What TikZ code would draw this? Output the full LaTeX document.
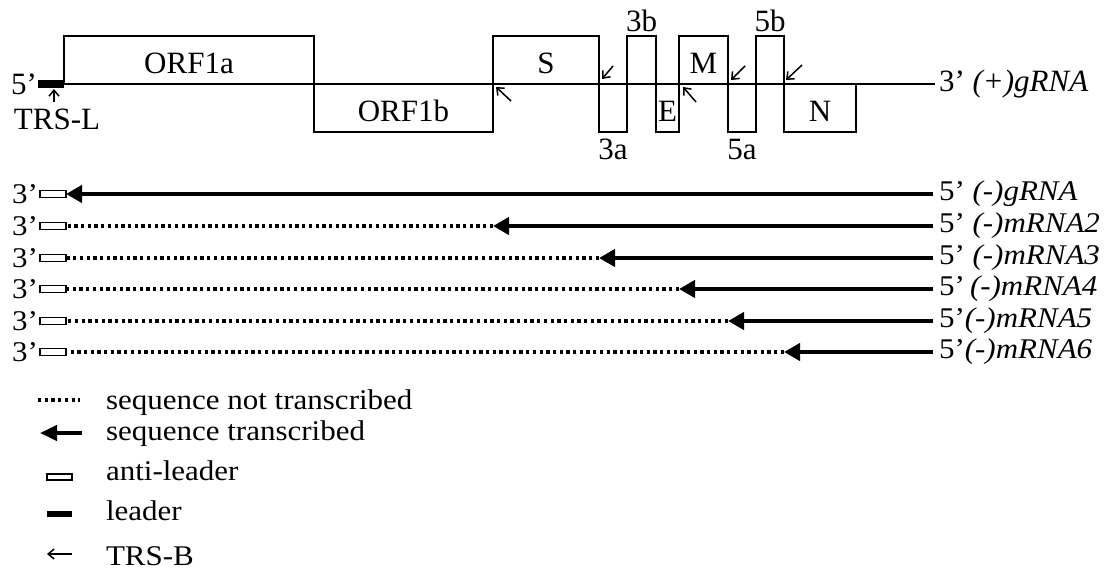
\documentclass[tikz,border=0pt]{standalone}
\usepackage{fontspec}
\usepackage{graphicx}
\setmainfont{Liberation Serif}
\usetikzlibrary{arrows.meta,positioning}

\newcommand\lowtext[1]{\scalebox{1}[.92]{#1}}

\begin{document}
\begin{tikzpicture}[x=1pt,y=-1pt,
    every node/.style={font=\fontsize{31}{36}\selectfont, inner sep=0pt, outer sep=0pt},
    orf/.style={draw, line width=1.6pt, minimum height=48pt, text height=28pt, text depth=0pt},
    trsb/.style={line width=1.5pt, -{Straight Barb[length=6pt,width=10pt]}},
    made/.style={line width=4pt, -{Triangle[length=16pt,width=17pt]}},
    skipped/.style={line width=3.3pt, dash pattern=on 3.3pt off 3.4pt},
    antileader/.style={draw, fill=white, line width=1.3pt, minimum width=26pt, minimum height=7pt},
    leaderbox/.style={fill=black, minimum width=26pt, minimum height=8pt}]

      \useasboundingbox (0,0) rectangle (1108,572);

      % genome
      \node[leaderbox] (leader) at (51,84) {};
      \node[left=1pt of leader] (five) {5’};
      \node[below=21pt of leader, xshift=6pt] (trsL) {TRS-L};
      \draw[trsb] ([xshift=3pt,yshift=-14pt]leader.south) -- ([xshift=3pt,yshift=-1pt]leader.south);
      \node[anchor=west] (plus) at (939,84) {3’ \textit{(+)gRNA}};
      \draw[line width=1.6pt] (leader.east) -- ([xshift=-4pt]plus.west);

      \node[orf, minimum width=250pt, anchor=south west] (orf1a) at (leader.east) {ORF1a};
      \node[orf, minimum width=179pt, anchor=north west] (orf1b) at (orf1a.south east) {ORF1b};
      \node[orf, minimum width=106pt, anchor=south west] (S) at (orf1b.north east) {S};
      \node[orf, minimum width=28pt, anchor=north west] (orf3a) at (S.south east) {};
      \node[orf, minimum width=29pt, anchor=south west] (orf3b) at (orf3a.north east) {};
      \node[orf, minimum width=23pt, anchor=north west] (E) at (orf3b.south east) {E};
      \node[orf, minimum width=49pt, anchor=south west] (M) at (E.north east) {M};
      \node[orf, minimum width=28pt, anchor=north west] (orf5a) at (M.south east) {};
      \node[orf, minimum width=28pt, anchor=south west] (orf5b) at (orf5a.north east) {};
      \node[orf, minimum width=72pt, anchor=north west] (N) at (orf5b.south east) {N};

      \node[below=7pt of orf3a] (lbl3a) {3a};
      \node[above=4pt of orf3b] (lbl3b) {3b};
      \node[below=7pt of orf5a] (lbl5a) {5a};
      \node[above=4pt of orf5b] (lbl5b) {5b};

      \draw[trsb] ([shift={(18,17)}]S.south west) -- ([shift={(3,3)}]S.south west);
      \draw[trsb] ([shift={(14,-18)}]S.south east) -- ([shift={(3,-5)}]S.south east);
      \draw[trsb] ([shift={(17,18)}]M.south west) -- ([shift={(4,3)}]M.south west);
      \draw[trsb] ([shift={(17,-18)}]M.south east) -- ([shift={(3,-4)}]M.south east);
      \draw[trsb] ([shift={(18,-19)}]orf5b.south east) -- ([shift={(2,-4)}]orf5b.south east);

      % negative strands
      \node[antileader] (al1) at (53,194) {};
      \node[antileader] (al2) at (53,226) {};
      \node[antileader] (al3) at (53,258) {};
      \node[antileader] (al4) at (53,289) {};
      \node[antileader] (al5) at (53,321) {};
      \node[antileader] (al6) at (53,352) {};
      \node[left=2pt of al1] (end1) {\lowtext{3’}};
      \node[left=2pt of al2] (end2) {\lowtext{3’}};
      \node[left=2pt of al3] (end3) {\lowtext{3’}};
      \node[left=2pt of al4] (end4) {\lowtext{3’}};
      \node[left=2pt of al5] (end5) {\lowtext{3’}};
      \node[left=2pt of al6] (end6) {\lowtext{3’}};

      \node[anchor=west] (rna1) at (939,194) {\lowtext{5’ \textit{(-)gRNA}}};
      \node[anchor=west] (rna2) at (939,226) {\lowtext{5’ \textit{(-)mRNA2}}};
      \node[anchor=west] (rna3) at (939,258) {\lowtext{5’ \textit{(-)mRNA3}}};
      \node[anchor=west] (rna4) at (939,289) {\lowtext{5’\,\textit{(-)mRNA4}}};
      \node[anchor=west] (rna5) at (939,321) {\lowtext{5’\textit{(-)mRNA5}}};
      \node[anchor=west] (rna6) at (939,352) {\lowtext{5’\textit{(-)mRNA6}}};

      \draw[made] ([xshift=-6pt]rna1.west) -- (al1.east);
      \draw[skipped] (S.south west |- al2) -- (al2.east);
      \draw[made] ([xshift=-6pt]rna2.west) -- (S.south west |- al2);
      \draw[skipped] (S.south east |- al3) -- (al3.east);
      \draw[made] ([xshift=-6pt]rna3.west) -- (S.south east |- al3);
      \draw[skipped] (M.south west |- al4) -- (al4.east);
      \draw[made] ([xshift=-6pt]rna4.west) -- (M.south west |- al4);
      \draw[skipped] (M.south east |- al5) -- (al5.east);
      \draw[made] ([xshift=-6pt]rna5.west) -- (M.south east |- al5);
      \draw[skipped] (orf5b.south east |- al6) -- (al6.east);
      \draw[made] ([xshift=-6pt]rna6.west) -- (orf5b.south east |- al6);

      % key
      \coordinate (k1w) at (38,400);
      \coordinate (k1e) at (80,400);
      \draw[skipped] (k1w) -- (k1e);
      \node[anchor=base west] (k1) at (106,409) {\lowtext{sequence not transcribed}};
      \coordinate (k2w) at (40,433);
      \coordinate (k2e) at (82,433);
      \draw[line width=4pt, -{Triangle[length=17pt,width=15pt]}] (k2e) -- (k2w);
      \node[anchor=base west] (k2) at (106,440) {\lowtext{sequence transcribed}};
      \node[antileader, minimum width=25pt, minimum height=6pt] (k3sym) at (59.5,477) {};
      \node[anchor=base west] (k3) at (106,480) {\lowtext{anti-leader}};
      \node[leaderbox, minimum width=25pt, minimum height=6pt] (k4sym) at (59.5,514) {};
      \node[anchor=base west] (k4) at (106,520) {\lowtext{leader}};
      \coordinate (k5w) at (47,554);
      \coordinate (k5e) at (72,554);
      \draw[trsb] (k5e) -- (k5w);
      \node[anchor=base west] (k5) at (106,565) {\lowtext{TRS-B}};
\end{tikzpicture}
\end{document}
